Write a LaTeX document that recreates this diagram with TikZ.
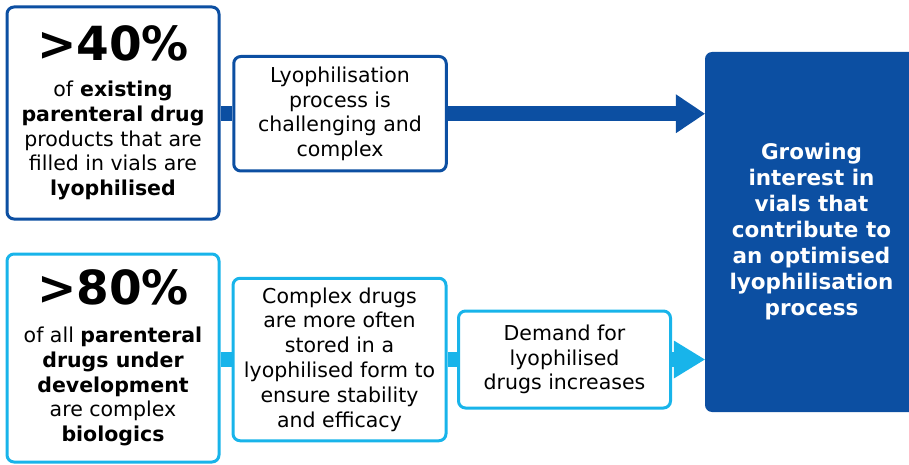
\documentclass[tikz,border=0pt]{standalone}
\usepackage{fontspec}
\setmainfont{DejaVu Sans}
\usepackage{xcolor}
\usetikzlibrary{arrows.meta}
\definecolor{lyoblue}{RGB}{12,79,162}
\definecolor{bioblue}{RGB}{24,180,234}
\newcommand{\bigpct}[1]{{\fontsize{47}{50}\selectfont\bfseries #1}}

\begin{document}
\begin{tikzpicture}[x=1pt,y=-1pt,
                    font=\fontsize{20.5}{24.8}\selectfont,
                    every node/.style={align=center, inner sep=0pt},
                    card/.style={draw=#1, line width=3pt, rounded corners=7pt, fill=white},
                    goalbox/.style={fill=lyoblue, rounded corners=7pt, text=white,
                                    font=\fontsize{21.5}{26}\selectfont\bfseries},
                    link/.style={draw=#1, line width=15pt}]
  \useasboundingbox (0,0) rectangle (909,465);
  % right column
  \node[goalbox, minimum width=213, minimum height=360] (goal) at (811.5,232)
      {Growing\\ interest in\\ vials that\\ contribute to\\ an optimised\\ lyophilisation\\ process};
  % upper row
  \node[card=lyoblue, minimum width=212, minimum height=212] (stat40) at (113,113)
      {\bigpct{>40\%}\\[11pt] of \textbf{existing}\\ \textbf{parenteral drug}\\ products that are\\ filled in vials are\\ \textbf{lyophilised}};
  \node[card=lyoblue, minimum width=212.5, minimum height=114.5] (lyo) at (340,113.75)
      {Lyophilisation\\ process is\\ challenging and\\ complex};
  \draw[link=lyoblue] (stat40.east |- lyo.west) -- (lyo.west);
  \draw[link=lyoblue, -{Triangle[length=29pt,width=39pt,line width=0pt]}]
      (lyo.east) -- (lyo.east -| goal.west);
  % lower row
  \node[card=bioblue, minimum width=212, minimum height=208] (stat80) at (113,358)
      {\bigpct{>80\%}\\[13pt] of all \textbf{parenteral}\\ \textbf{drugs under}\\ \textbf{development}\\ are complex\\ \textbf{biologics}};
  \node[card=bioblue, minimum width=213, minimum height=162.5] (cdrugs) at (339.5,359.5)
      {Complex drugs\\ are more often\\ stored in a\\ lyophilised form to\\ ensure stability\\ and efficacy};
  \node[card=bioblue, minimum width=212, minimum height=97] (demand) at (564.5,359.5)
      {Demand for\\ lyophilised\\ drugs increases};
  \draw[link=bioblue] (stat80.east |- cdrugs.west) -- (cdrugs.west);
  \draw[link=bioblue] (cdrugs.east) -- (demand.west);
  \draw[link=bioblue, -{Triangle[length=31pt,width=38pt,line width=0pt]}]
      (demand.east) -- (demand.east -| goal.west);
\end{tikzpicture}
\end{document}
